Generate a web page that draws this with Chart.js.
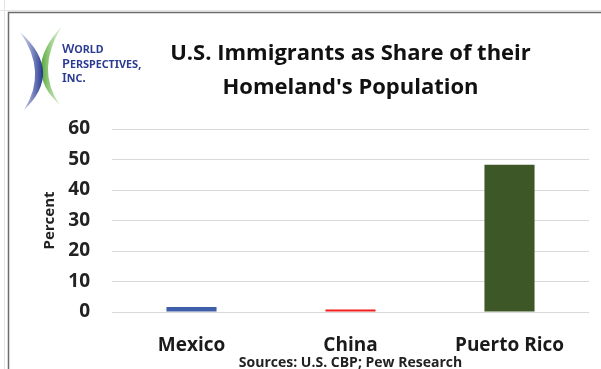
<!DOCTYPE html>
<html lang="en">
<head>
<meta charset="UTF-8">
<title>U.S. Immigrants as Share of their Homeland's Population</title>
<script src="https://cdn.jsdelivr.net/npm/chart.js"></script>
<style>
    body { margin: 0; background: #fff; }
    canvas { display: block; }
</style>
</head>
<body>
<canvas id="share-chart" width="601" height="369"></canvas>
<script>
    // chart data
    const countries = ['Mexico', 'China', 'Puerto Rico'];
    const sharePercent = [1.6, 0.8, 48.3];
    const barColors = ['#3f5fa8', '#f21c1c', '#3d5826'];
    const yTicks = [0, 10, 20, 30, 40, 50, 60];
    const titleLines = ['U.S. Immigrants as Share of their', "Homeland's Population"];
    const logoLines = ['World', 'Perspectives,', 'Inc.'];

    // frame lines and the company logo, painted under the chart
    const framePlugin = {
        id: 'frame',
        beforeDraw(chart) {
            const ctx = chart.ctx;
            ctx.save();
            ctx.fillStyle = '#fff';
            ctx.fillRect(0, 0, chart.width, chart.height);

            // faint sheet lines
            ctx.strokeStyle = '#e4e4e4';
            ctx.lineWidth = 1;
            ctx.beginPath();
            ctx.moveTo(0, 10.5); ctx.lineTo(chart.width, 10.5);
            ctx.moveTo(4.5, 0); ctx.lineTo(4.5, chart.height);
            ctx.stroke();

            // chart box border
            ctx.strokeStyle = '#6b6b6b';
            ctx.lineWidth = 1.5;
            ctx.beginPath();
            ctx.moveTo(8.5, chart.height);
            ctx.lineTo(8.5, 12.5);
            ctx.lineTo(chart.width, 12.5);
            ctx.stroke();

            // logo crescents: green one bends left, blue one bends right
            const green = ctx.createLinearGradient(40, 0, 62, 0);
            green.addColorStop(0, '#4fa32f');
            green.addColorStop(1, 'rgba(110,190,80,0.15)');
            ctx.fillStyle = green;
            ctx.beginPath();
            ctx.moveTo(62, 26);
            ctx.quadraticCurveTo(21, 70, 60, 105);
            ctx.quadraticCurveTo(35, 70, 62, 26);
            ctx.fill();

            const blue = ctx.createLinearGradient(18, 0, 43, 0);
            blue.addColorStop(0, 'rgba(60,80,170,0.1)');
            blue.addColorStop(1, '#26388f');
            ctx.fillStyle = blue;
            ctx.beginPath();
            ctx.moveTo(20, 32);
            ctx.quadraticCurveTo(64, 72, 24, 110);
            ctx.quadraticCurveTo(48, 72, 20, 32);
            ctx.fill();

            ctx.fillStyle = '#2b3a93';
            ctx.font = 'small-caps 600 13px "Noto Sans"';
            ctx.textBaseline = 'alphabetic';
            ctx.fillText(logoLines[0], 62, 53);
            ctx.fillText(logoLines[1], 62, 68);
            ctx.fillText(logoLines[2], 62, 82);
            ctx.restore();
        }
    };

    const tickFont = { family: 'Open Sans', size: 19, weight: 'bold' };

    new Chart(document.getElementById('share-chart'), {
        type: 'bar',
        data: {
            labels: countries,
            datasets: [{
                data: sharePercent,
                backgroundColor: barColors,
                barPercentage: 0.315,
                categoryPercentage: 1
            }]
        },
        options: {
            responsive: false,
            animation: false,
            layout: { padding: { left: 41, right: 12, top: 0, bottom: 0 } },
            plugins: {
                legend: { display: false },
                tooltip: { enabled: false },
                title: {
                    display: true,
                    text: titleLines,
                    fullSize: false,
                    color: '#111',
                    font: { family: 'Open Sans', size: 22, weight: 'bold', lineHeight: 34 / 22 },
                    padding: { top: 37, bottom: 24 }
                }
            },
            scales: {
                y: {
                    min: yTicks[0],
                    max: yTicks[yTicks.length - 1],
                    afterBuildTicks: scale => { scale.ticks = yTicks.map(v => ({ value: v })); },
                    afterFit: scale => { scale.width = 71; },
                    ticks: { font: tickFont, color: '#222', padding: 22 },
                    grid: { color: '#d9d9d9', drawTicks: false },
                    border: { display: false },
                    title: {
                        display: true,
                        text: 'Percent',
                        color: '#222',
                        font: { family: 'Open Sans', size: 15, weight: 'bold' },
                        padding: 0
                    }
                },
                x: {
                    afterFit: scale => { scale.height = 57; },
                    ticks: { font: tickFont, color: '#1a1a1a', padding: 14 },
                    grid: { display: false },
                    border: { display: false },
                    title: {
                        display: true,
                        text: 'Sources: U.S. CBP; Pew Research',
                        color: '#222',
                        font: { family: 'Open Sans', size: 14, weight: 'bold' },
                        padding: { top: 0, bottom: -2 }
                    }
                }
            }
        },
        plugins: [framePlugin]
    });
</script>
</body>
</html>
